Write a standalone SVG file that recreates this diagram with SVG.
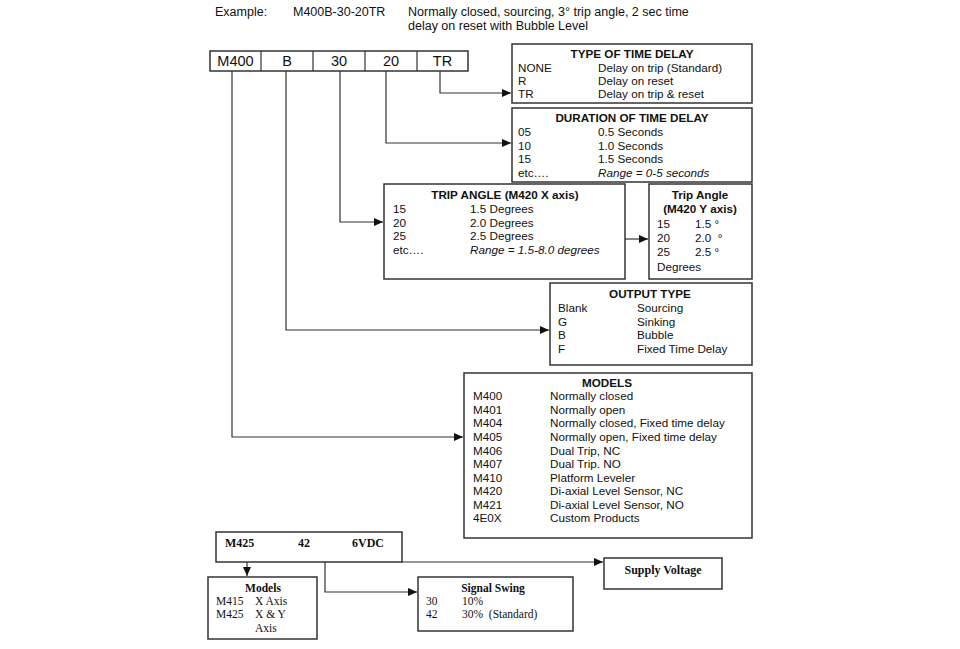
<svg xmlns="http://www.w3.org/2000/svg" width="960" height="649" viewBox="0 0 960 649">
<defs>
<style>
.t{font-family:"Liberation Sans",Arial,sans-serif;font-size:11.7px;fill:#111}
.b{font-weight:bold}
.c{text-anchor:middle}
.h{font-family:"Liberation Sans",Arial,sans-serif;font-size:12.5px;fill:#111}
.seg{font-family:"Liberation Sans",Arial,sans-serif;font-size:14.5px;fill:#111;text-anchor:middle}
.s{font-family:"Liberation Serif","Times New Roman",serif;font-size:11.5px;fill:#111}
.s2{font-family:"Liberation Serif","Times New Roman",serif;font-size:12px;fill:#111}
.box{fill:#fff;stroke:#333;stroke-width:1.5}
.ln{fill:none;stroke:#333;stroke-width:1.2}
</style>
<marker id="ar" markerWidth="9" markerHeight="8" refX="9" refY="4" orient="auto" markerUnits="userSpaceOnUse">
<path d="M0,0 L9,4 L0,8 Z" fill="#111"/>
</marker>
</defs>
<rect width="960" height="649" fill="#fff"/>

<g id="header">
<text class="h" x="215" y="16">Example:</text>
<text class="h" x="293" y="16">M400B-30-20TR</text>
<text class="h" x="408" y="16">Normally closed, sourcing, 3° trip angle, 2 sec time</text>
<text class="h" x="408" y="30">delay on reset with Bubble Level</text>
</g>

<g id="connectors">
<path class="ln" d="M440,71 V93 H511" marker-end="url(#ar)"/>
<path class="ln" d="M386,71 V143 H511" marker-end="url(#ar)"/>
<path class="ln" d="M340,71 V222 H383" marker-end="url(#ar)"/>
<path class="ln" d="M625,239 H648" marker-end="url(#ar)"/>
<path class="ln" d="M286,71 V330 H549" marker-end="url(#ar)"/>
<path class="ln" d="M232,71 V437 H463" marker-end="url(#ar)"/>
<path class="ln" d="M402,562 H603" marker-end="url(#ar)"/>
<path class="ln" d="M247,562 V576" marker-end="url(#ar)"/>
<path class="ln" d="M325,562 V592 H417" marker-end="url(#ar)"/>
</g>

<g id="code">
<rect class="box" x="210" y="51" width="258" height="20"/>
<path class="ln" d="M261,51 V71 M313,51 V71 M365,51 V71 M417,51 V71"/>
<text class="seg" x="235.5" y="66">M400</text>
<text class="seg" x="287" y="66">B</text>
<text class="seg" x="339" y="66">30</text>
<text class="seg" x="391" y="66">20</text>
<text class="seg" x="442.5" y="66">TR</text>
</g>

<g id="type-of-time-delay">
<rect class="box" x="512" y="44" width="240" height="59"/>
<text class="t b c" x="632" y="58">TYPE OF TIME DELAY</text>
<text class="t" x="518" y="72">NONE</text><text class="t" x="598" y="72">Delay on trip (Standard)</text>
<text class="t" x="518" y="85">R</text><text class="t" x="598" y="85">Delay on reset</text>
<text class="t" x="518" y="98">TR</text><text class="t" x="598" y="98">Delay on trip &amp; reset</text>
</g>

<g id="duration-of-time-delay">
<rect class="box" x="512" y="108" width="240" height="74"/>
<text class="t b c" x="632" y="122">DURATION OF TIME DELAY</text>
<text class="t" x="518" y="136">05</text><text class="t" x="598" y="136">0.5 Seconds</text>
<text class="t" x="518" y="150">10</text><text class="t" x="598" y="150">1.0 Seconds</text>
<text class="t" x="518" y="163">15</text><text class="t" x="598" y="163">1.5 Seconds</text>
<text class="t" x="518" y="177">etc….</text><text class="t" x="598" y="177" font-style="italic">Range = 0-5 seconds</text>
</g>

<g id="trip-angle-x">
<rect class="box" x="384" y="184" width="241" height="95"/>
<text class="t b c" x="505" y="199">TRIP ANGLE (M420 X axis)</text>
<text class="t" x="393" y="213">15</text><text class="t" x="470" y="213">1.5 Degrees</text>
<text class="t" x="393" y="227">20</text><text class="t" x="470" y="227">2.0 Degrees</text>
<text class="t" x="393" y="240">25</text><text class="t" x="470" y="240">2.5 Degrees</text>
<text class="t" x="393" y="254">etc….</text><text class="t" x="470" y="254" font-style="italic">Range = 1.5-8.0 degrees</text>
</g>

<g id="trip-angle-y">
<rect class="box" x="649" y="184" width="103" height="95"/>
<text class="t b c" x="700" y="199">Trip Angle</text>
<text class="t b c" x="700" y="213">(M420 Y axis)</text>
<text class="t" x="657" y="228">15</text><text class="t" x="695" y="228">1.5 °</text>
<text class="t" x="657" y="242">20</text><text class="t" x="695" y="242">2.0 &#160;°</text>
<text class="t" x="657" y="256">25</text><text class="t" x="695" y="256">2.5 °</text>
<text class="t" x="657" y="271" font-size="13">Degrees</text>
</g>

<g id="output-type">
<rect class="box" x="550" y="283" width="202" height="82"/>
<text class="t b c" x="650" y="298">OUTPUT TYPE</text>
<text class="t" x="558" y="312">Blank</text><text class="t" x="637" y="312">Sourcing</text>
<text class="t" x="558" y="326">G</text><text class="t" x="637" y="326">Sinking</text>
<text class="t" x="558" y="339">B</text><text class="t" x="637" y="339">Bubble</text>
<text class="t" x="558" y="353">F</text><text class="t" x="637" y="353">Fixed Time Delay</text>
</g>

<g id="models">
<rect class="box" x="464" y="373" width="288" height="165"/>
<text class="t b c" x="607" y="387">MODELS</text>
<text class="t" x="473" y="400">M400</text><text class="t" x="550" y="400">Normally closed</text>
<text class="t" x="473" y="414">M401</text><text class="t" x="550" y="414">Normally open</text>
<text class="t" x="473" y="427">M404</text><text class="t" x="550" y="427">Normally closed, Fixed time delay</text>
<text class="t" x="473" y="441">M405</text><text class="t" x="550" y="441">Normally open, Fixed time delay</text>
<text class="t" x="473" y="455">M406</text><text class="t" x="550" y="455">Dual Trip, NC</text>
<text class="t" x="473" y="468">M407</text><text class="t" x="550" y="468">Dual Trip. NO</text>
<text class="t" x="473" y="482">M410</text><text class="t" x="550" y="482">Platform Leveler</text>
<text class="t" x="473" y="495">M420</text><text class="t" x="550" y="495">Di-axial Level Sensor, NC</text>
<text class="t" x="473" y="509">M421</text><text class="t" x="550" y="509">Di-axial Level Sensor, NO</text>
<text class="t" x="473" y="522">4E0X</text><text class="t" x="550" y="522">Custom Products</text>
</g>

<g id="m425-code">
<rect class="box" x="216" y="532" width="186" height="30"/>
<text class="s2 b" x="225" y="547">M425</text>
<text class="s2 b" x="298" y="547">42</text>
<text class="s2 b" x="352" y="547">6VDC</text>
</g>

<g id="supply-voltage">
<rect class="box" x="604" y="558" width="118" height="31"/>
<text class="s2 b c" x="663" y="574">Supply Voltage</text>
</g>

<g id="models-small">
<rect class="box" x="208" y="577" width="109" height="62"/>
<text class="s b c" x="263" y="592">Models</text>
<text class="s" x="216" y="605">M415</text><text class="s" x="255" y="605">X Axis</text>
<text class="s" x="216" y="618">M425</text><text class="s" x="255" y="618">X &amp; Y</text>
<text class="s" x="255" y="632">Axis</text>
</g>

<g id="signal-swing">
<rect class="box" x="418" y="577" width="155" height="54"/>
<text class="s b c" x="493" y="592">Signal Swing</text>
<text class="s" x="426" y="605">30</text><text class="s" x="462" y="605">10%</text>
<text class="s" x="426" y="618">42</text><text class="s" x="462" y="618">30% &#160;(Standard)</text>
</g>
</svg>
